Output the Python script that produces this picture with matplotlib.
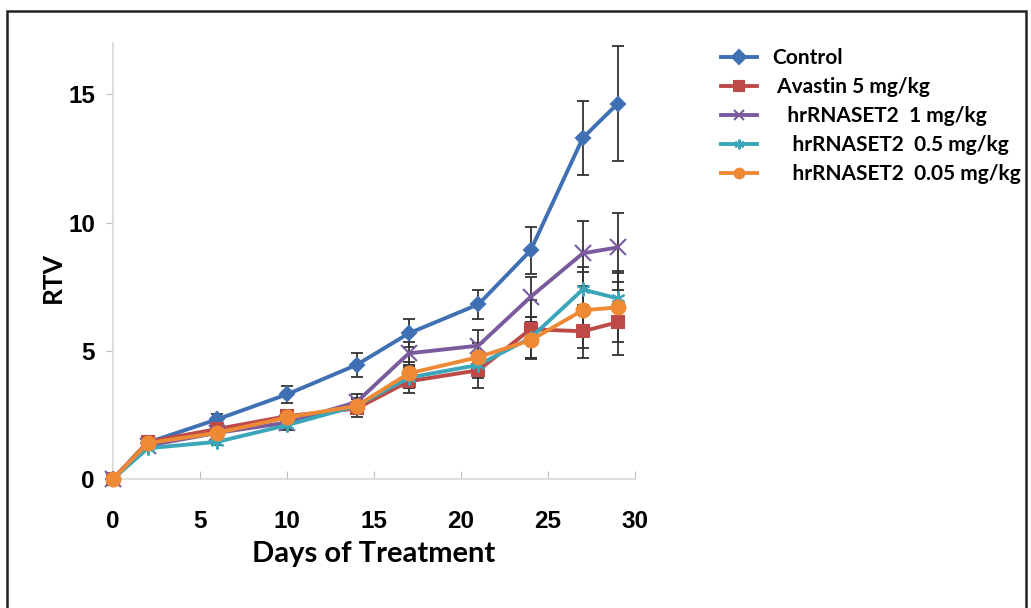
#!/usr/bin/env python3
"""RTV over days of treatment, five groups with error bars."""
import matplotlib

matplotlib.use("Agg")
import matplotlib.pyplot as plt
from matplotlib.patches import Rectangle

days = [0, 2, 6, 10, 14, 17, 21, 24, 27, 29]

labels = [
    "Control",
    " Avastin 5 mg/kg",
    "   hrRNASET2  1 mg/kg",
    "    hrRNASET2  0.5 mg/kg",
    "    hrRNASET2  0.05 mg/kg",
]

control = [0, 1.42, 2.33, 3.30, 4.45, 5.68, 6.81, 8.91, 13.30, 14.63]
avastin = [0, 1.45, 1.95, 2.45, 2.75, 3.81, 4.24, 5.84, 5.76, 6.11]
rnase_1 = [0, 1.30, 1.80, 2.20, 3.00, 4.90, 5.20, 7.10, 8.80, 9.03]
rnase_05 = [0, 1.20, 1.45, 2.10, 2.85, 3.95, 4.45, 5.50, 7.39, 7.04]
rnase_005 = [0, 1.40, 1.80, 2.40, 2.85, 4.12, 4.75, 5.41, 6.58, 6.69]

err_control = [0, 0.10, 0.22, 0.33, 0.48, 0.55, 0.56, 0.93, 1.45, 2.25]
err_avastin = [0, 0.10, 0.15, 0.20, 0.35, 0.46, 0.70, 1.15, 1.04, 1.27]
err_rnase_1 = [0, 0.10, 0.15, 0.20, 0.30, 0.45, 0.60, 0.79, 1.27, 1.35]
err_rnase_05 = [0, 0.08, 0.12, 0.18, 0.30, 0.40, 0.50, 0.80, 0.88, 1.06]
err_rnase_005 = [0, 0.10, 0.15, 0.20, 0.30, 0.45, 0.55, 0.70, 1.48, 1.36]

series = [control, avastin, rnase_1, rnase_05, rnase_005]
errors = [err_control, err_avastin, err_rnase_1, err_rnase_05, err_rnase_005]
colors = ["#3E70B3", "#BD4A47", "#7A5C9E", "#3BA6BA", "#EE8A36"]
markers = ["D", "s", "x", (6, 2, 0), "o"]
msizes = [7, 9, 11, 10, 10]

fig = plt.figure(figsize=(10.31, 6.08), dpi=100)
ax = fig.add_axes([113 / 1031, 1 - 479 / 608, 522 / 1031, 436 / 608])

# erros primeiro, por baixo das linhas
for vals, err in zip(series, errors):
    ax.errorbar(days, vals, yerr=err, fmt="none", ecolor="#333333",
                elinewidth=1.3, capsize=4, capthick=1.3, zorder=2)

for vals, lab, c, m, ms in zip(series, labels, colors, markers, msizes):
    ax.plot(days, vals, color=c, lw=2.8, marker=m, markersize=ms,
            markeredgecolor=c, markeredgewidth=1.5, label=lab, zorder=3,
            clip_on=False)

ax.set_xlim(0, 30)
ax.set_ylim(0, 17)
ax.set_xticks([0, 5, 10, 15, 20, 25, 30])
ax.set_yticks([0, 5, 10, 15])

for side in ("top", "right"):
    ax.spines[side].set_visible(False)
for side in ("left", "bottom"):
    ax.spines[side].set_color("#D9D9D9")
    ax.spines[side].set_linewidth(1.2)

ax.tick_params(axis="x", direction="in", length=6, color="#BFBFBF", pad=22)
ax.tick_params(axis="y", direction="out", length=5, color="#BFBFBF", pad=8)
for t in ax.get_xticklabels() + ax.get_yticklabels():
    t.set_fontfamily("Liberation Sans")
    t.set_fontweight("bold")
    t.set_fontsize(17.5)

ax.set_xlabel("Days of Treatment", fontfamily="Lato", fontweight="bold",
              fontsize=21, labelpad=6)
ax.set_ylabel("RTV", fontfamily="Lato", fontweight="bold", fontsize=19,
              labelpad=2)
ax.yaxis.label.set_y(0.463)

leg = ax.legend(loc="upper left", bbox_to_anchor=(721 / 1031, 1 - 48 / 608),
                bbox_transform=fig.transFigure, frameon=False,
                prop={"family": "Lato", "weight": "bold", "size": 15},
                handlelength=1.75, handletextpad=0.7, labelspacing=0.43,
                borderaxespad=0, borderpad=0)
for h in leg.legend_handles:
    h.set_markersize(7)
    h.set_linewidth(2.8)

fig.patches.append(Rectangle((7 / 1031, -0.05), 1019 / 1031, 1 - 11 / 608 + 0.05,
                             transform=fig.transFigure, fill=False,
                             edgecolor="#222222", linewidth=1.8))

fig.savefig("out.png", dpi=100)
